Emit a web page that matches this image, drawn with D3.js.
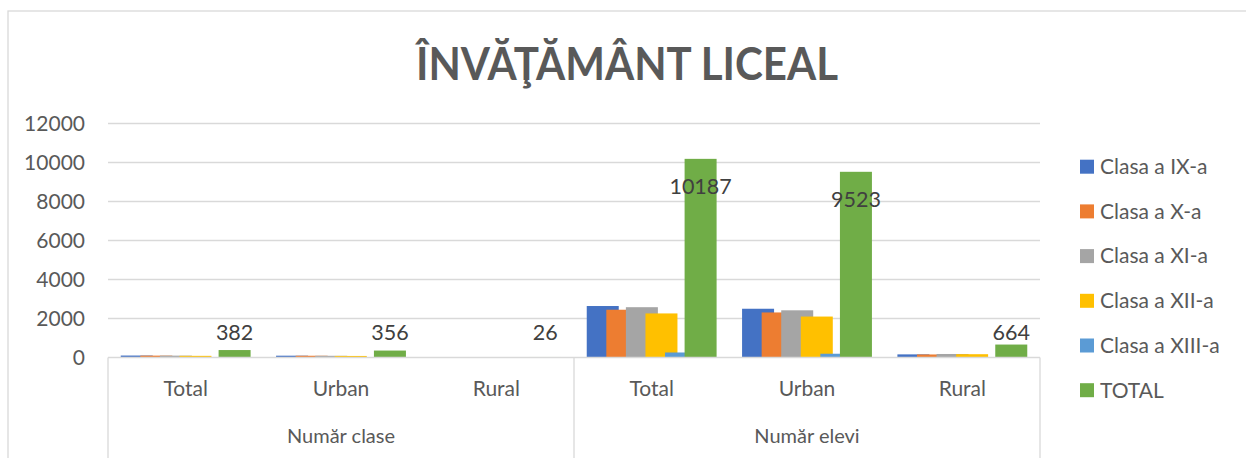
<!DOCTYPE html>
<html>
<head>
<meta charset="utf-8">
<script src="https://cdn.jsdelivr.net/npm/d3@7/dist/d3.min.js"></script>
<style>
    body { margin: 0; background: #fff; }
    svg { display: block; font-family: Lato, "Open Sans", sans-serif; }
</style>
</head>
<body>
<svg id="svg-chart"></svg>
<script>
// data
let groupNames = ['Număr clase', 'Număr elevi'];
let subNames = ['Total', 'Urban', 'Rural'];
let seriesNames = ['Clasa a IX-a', 'Clasa a X-a', 'Clasa a XI-a', 'Clasa a XII-a', 'Clasa a XIII-a', 'TOTAL'];
let valIX = [100, 93, 7, 2640, 2500, 160];
let valX = [96, 90, 6, 2450, 2310, 155];
let valXI = [95, 88, 7, 2580, 2420, 180];
let valXII = [85, 80, 6, 2260, 2100, 169];
let valXIII = [6, 5, 0, 257, 193, 0];
let valTotal = [382, 356, 26, 10187, 9523, 664];
let yTicks = [0, 2000, 4000, 6000, 8000, 10000, 12000];
let colors = ['#4472C4', '#ED7D31', '#A5A5A5', '#FFC000', '#5B9BD5', '#70AD47'];

function draw_chart() {
    let width = 1246, height = 458;
    let svg = d3.select('#svg-chart')
        .attr('width', width)
        .attr('height', height);

    let seriesVals = [valIX, valX, valXI, valXII, valXIII, valTotal];
    // one entry per category (group + sub)
    let cats = [];
    groupNames.forEach(function (g) {
        subNames.forEach(function (s) { cats.push(g + '|' + s); });
    });

    // chart frame
    svg.append('rect')
        .attr('x', 8).attr('y', 11)
        .attr('width', width + 20).attr('height', height + 20)
        .attr('fill', 'none')
        .attr('stroke', '#d9d9d9')
        .attr('stroke-width', 1.3);

    // title
    svg.append('text')
        .attr('x', 627).attr('y', 80)
        .attr('text-anchor', 'middle')
        .attr('font-size', 46)
        .attr('font-weight', 'bold')
        .attr('fill', '#595959')
        .attr('textLength', 422)
        .attr('lengthAdjust', 'spacingAndGlyphs')
        .text('ÎNVĂŢĂMÂNT LICEAL');

    let x0 = 108, x1 = 1040, y0 = 357.5, y1 = 123.5;
    let xScale = d3.scaleBand().domain(cats).range([x0, x1]).padding(0);
    let yScale = d3.scaleLinear().domain([0, 12000]).range([y0, y1]);
    let bw = xScale.bandwidth();
    let barW = bw * 0.206;
    let sScale = d3.scalePoint().domain(seriesNames)
        .range([bw * 0.082, bw - bw * 0.082 - barW]);

    // gridlines + y labels
    let gGrid = svg.append('g');
    gGrid.selectAll('line')
        .data(yTicks.slice(1))
        .enter().append('line')
        .attr('x1', x0).attr('x2', x1)
        .attr('y1', function (d) { return yScale(d); })
        .attr('y2', function (d) { return yScale(d); })
        .attr('stroke', '#d9d9d9')
        .attr('stroke-width', 1.3);
    gGrid.selectAll('text')
        .data(yTicks)
        .enter().append('text')
        .attr('x', 85)
        .attr('y', function (d) { return yScale(d); })
        .attr('dy', '0.35em')
        .attr('text-anchor', 'end')
        .attr('font-size', 21)
        .attr('fill', '#595959')
        .text(function (d) { return d; });

    // bars, series in order so later ones sit on top
    let gBars = svg.append('g');
    for (let i = 0; i < seriesNames.length; i++) {
        gBars.append('g')
            .selectAll('rect')
            .data(seriesVals[i])
            .enter().append('rect')
            .attr('x', function (d, j) { return xScale(cats[j]) + sScale(seriesNames[i]); })
            .attr('y', function (d) { return yScale(d); })
            .attr('width', barW)
            .attr('height', function (d) { return y0 - yScale(d); })
            .attr('fill', colors[i]);
    }

    // labels for TOTAL
    svg.append('g').selectAll('text')
        .data(valTotal)
        .enter().append('text')
        .attr('x', function (d, j) { return xScale(cats[j]) + sScale('TOTAL') + barW / 2; })
        .attr('y', function (d) { return d > 6000 ? yScale(d) + 28 : y0 - 25; })
        .attr('dy', '0.35em')
        .attr('text-anchor', 'middle')
        .attr('font-size', 21.5)
        .attr('fill', '#404040')
        .text(function (d) { return d; });

    // x axis
    let gAxis = svg.append('g');
    gAxis.append('line')
        .attr('x1', x0).attr('x2', x1)
        .attr('y1', y0).attr('y2', y0)
        .attr('stroke', '#d9d9d9').attr('stroke-width', 1.3);
    let sepX = [x0, xScale(cats[3]), x1];
    gAxis.selectAll('.sep')
        .data(sepX)
        .enter().append('line')
        .attr('x1', function (d) { return d; })
        .attr('x2', function (d) { return d; })
        .attr('y1', y0).attr('y2', height)
        .attr('stroke', '#d9d9d9').attr('stroke-width', 1.3);
    gAxis.selectAll('.sub')
        .data(cats)
        .enter().append('text')
        .attr('x', function (d) { return xScale(d) + bw / 2; })
        .attr('y', 389)
        .attr('dy', '0.35em')
        .attr('text-anchor', 'middle')
        .attr('font-size', 21)
        .attr('fill', '#595959')
        .text(function (d) { return d.split('|')[1]; });
    gAxis.selectAll('.grp')
        .data(groupNames)
        .enter().append('text')
        .attr('x', function (d, i) { return xScale(cats[i * 3]) + bw * 1.5; })
        .attr('y', 436)
        .attr('dy', '0.35em')
        .attr('text-anchor', 'middle')
        .attr('font-size', 20)
        .attr('fill', '#595959')
        .text(function (d) { return d; });

    // legend
    let gLegend = svg.append('g');
    let legItem = gLegend.selectAll('g')
        .data(seriesNames)
        .enter().append('g')
        .attr('transform', function (d, i) { return 'translate(1080,' + (166.7 + i * 44.7) + ')'; });
    legItem.append('rect')
        .attr('x', 0).attr('y', -7)
        .attr('width', 14).attr('height', 14)
        .attr('fill', function (d, i) { return colors[i]; });
    legItem.append('text')
        .attr('x', 20).attr('y', 0)
        .attr('dy', '0.35em')
        .attr('font-size', 21)
        .attr('fill', '#595959')
        .text(function (d) { return d; });
}

draw_chart();
</script>
</body>
</html>
